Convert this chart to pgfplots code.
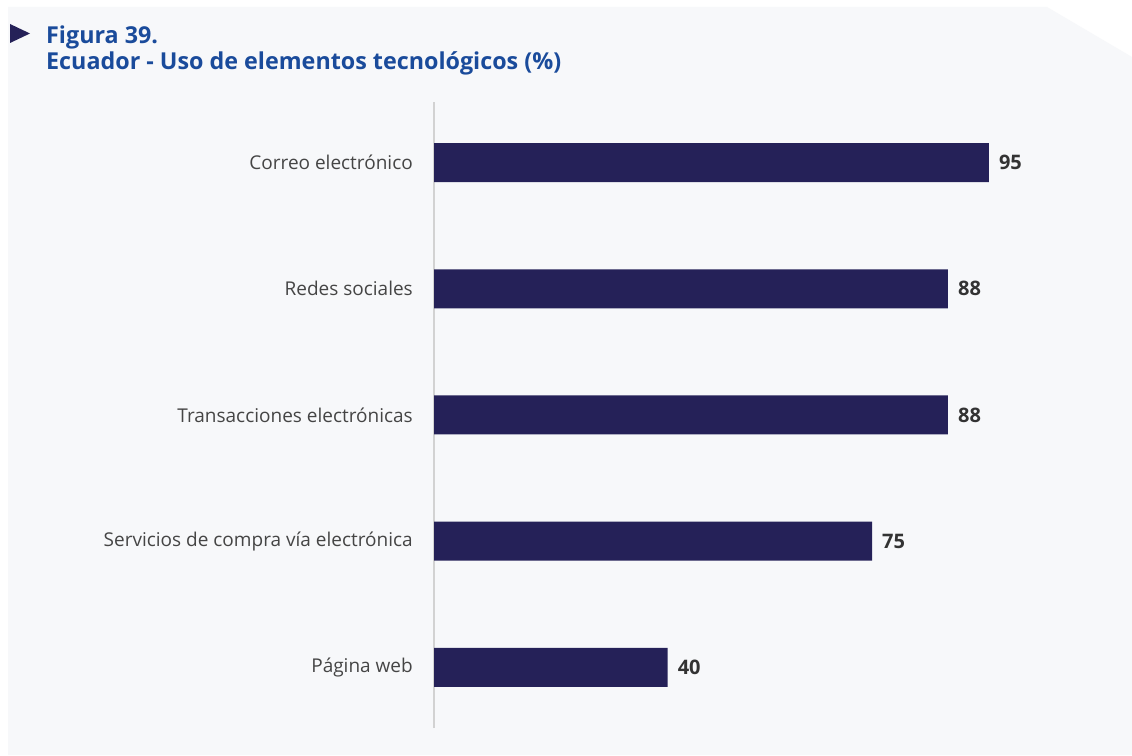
\documentclass[border=0pt]{standalone}
\usepackage{fontspec}
\setmainfont{Open Sans}
\newfontfamily\titlefont{Open Sans}[BoldFont={Open Sans Bold}]
\usepackage{pgfplots}
\pgfplotsset{compat=1.18}
\definecolor{bg}{HTML}{F7F8FA}
\definecolor{navy}{HTML}{252158}
\definecolor{titleblue}{HTML}{1A4B9B}
\definecolor{labelgray}{HTML}{454545}
\definecolor{valgray}{HTML}{333333}
\definecolor{axisgray}{HTML}{D2D2D2}
\begin{document}
\begin{tikzpicture}[x=1pt,y=1pt]
\fill[white] (0,0) rectangle (1132,755);
\fill[bg] (8,0) -- (8,748) -- (1047,748) -- (1132,698) -- (1132,0) -- cycle;
\fill[navy] (10,731) -- (30,721.5) -- (10,712) -- cycle;
\node[anchor=base west, inner sep=0pt, text=titleblue, font=\titlefont\bfseries\fontsize{23.3}{26}\selectfont] at (46,711) {Figura 39.};
\node[anchor=base west, inner sep=0pt, text=titleblue, font=\titlefont\bfseries\fontsize{23.3}{26}\selectfont] at (46,685) {Ecuador - Uso de elementos tecnológicos (\%)};
\begin{axis}[
  at={(434pt,27pt)}, anchor=south west,
  scale only axis, width=584pt, height=626pt,
  xmin=0, xmax=100, ymin=-0.48, ymax=4.48,
  xbar, bar width=39pt,
  axis x line=none, axis y line*=left,
  y axis line style={draw=axisgray, line width=2pt},
  major tick length=0pt,
  ytick={0,1,2,3,4},
  yticklabels={Página web, Servicios de compra vía electrónica, Transacciones electrónicas, Redes sociales, Correo electrónico},
  yticklabel style={font=\fontsize{19}{22}\selectfont, text=labelgray, anchor=east, inner sep=0pt, xshift=-21pt},
  /pgf/number format/assume math mode=true,
  nodes near coords, point meta=x,
  nodes near coords style={font=\bfseries\fontsize{20}{22}\selectfont, text=valgray, anchor=west, inner sep=0pt, xshift=10pt},
  clip=false,
]
\addplot[fill=navy, draw=none] coordinates {(40,0) (75,1) (88,2) (88,3) (95,4)};
\end{axis}
\end{tikzpicture}
\end{document}
